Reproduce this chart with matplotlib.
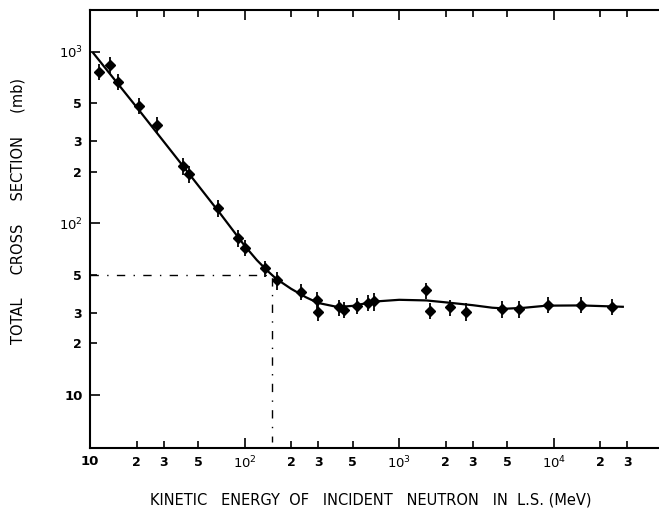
import matplotlib
matplotlib.use("Agg")
import matplotlib.pyplot as plt
from matplotlib.ticker import FixedLocator, FixedFormatter

# measured points (MeV, mb) with error bars
energy = [11.4, 13.5, 15.1, 20.7, 27, 40, 43.6, 67, 91, 101, 136, 161, 233, 292, 300,
          410, 442, 535, 631, 690, 1490, 1585, 2135, 2700, 4620, 5950, 9140, 15100, 24000]
sigma = [764, 840, 668, 483, 374, 215, 194, 122, 82, 72, 54.6, 46.4, 40, 35.5, 30.5,
         32.4, 31.4, 33, 34.5, 35, 40.6, 31, 32.3, 30.6, 31.6, 31.6, 33.6, 33.6, 32.7]
sigma_err = [80, 90, 70, 50, 40, 25, 22, 14, 9, 8, 6, 5.5, 4.5, 4, 3.5,
             3.5, 3.5, 3.5, 3.5, 4, 4.5, 3.5, 3.5, 3.5, 3.5, 3.5, 3.5, 3.5, 3.5]

# smooth curve drawn through the data
curve_e = [10.5, 20, 40, 70, 100, 120, 140, 160, 200, 250, 300, 400, 500, 700, 1000,
           1500, 2000, 3000, 4000, 5000, 6500, 9000, 15000, 28000]
curve_s = [980, 475, 215, 113, 74, 61, 53, 47.5, 41.5, 37, 34.3, 32.5, 33, 35, 35.8,
           35.5, 34.6, 33.3, 32.2, 31.8, 32.2, 33.1, 33.2, 32.6]

# guide lines at 50 mb / 150 MeV
guide_e = [10, 150, 150]
guide_s = [50, 50, 5.3]

x_major = [10, 100, 1000, 10000]
x_major_labels = ["10", r"$10^2$", r"$10^3$", r"$10^4$"]
x_minor = [20, 30, 50, 200, 300, 500, 2000, 3000, 5000, 20000, 30000]
x_minor_labels = ["2", "3", "5", "2", "3", "5", "2", "3", "5", "2", "3"]
y_major = [10, 100, 1000]
y_major_labels = ["10", r"$10^2$", r"$10^3$"]
y_minor = [20, 30, 50, 200, 300, 500]
y_minor_labels = ["2", "3", "5", "2", "3", "5"]

fig = plt.figure(figsize=(6.59, 5.18), dpi=100)
ax = fig.add_axes([0.1366, 0.135, 0.8634, 0.846])

ax.plot(curve_e, curve_s, color="black", lw=1.6)
ax.errorbar(energy, sigma, yerr=sigma_err, fmt="D", color="black", ms=5,
            elinewidth=1.3, capsize=0)
ax.plot(guide_e, guide_s, color="black", lw=1, linestyle=(0, (6, 6, 1, 6)))

ax.set_xscale("log")
ax.set_yscale("log")
ax.set_xlim(10, 4.8e4)
ax.set_ylim(4.9, 1750)

ax.xaxis.set_major_locator(FixedLocator(x_major))
ax.xaxis.set_major_formatter(FixedFormatter(x_major_labels))
ax.xaxis.set_minor_locator(FixedLocator(x_minor))
ax.xaxis.set_minor_formatter(FixedFormatter(x_minor_labels))
ax.yaxis.set_major_locator(FixedLocator(y_major))
ax.yaxis.set_major_formatter(FixedFormatter(y_major_labels))
ax.yaxis.set_minor_locator(FixedLocator(y_minor))
ax.yaxis.set_minor_formatter(FixedFormatter(y_minor_labels))

ax.tick_params(axis="both", which="major", direction="in", length=7, width=1.2,
               labelsize=9.5, pad=5)
ax.tick_params(axis="both", which="minor", direction="in", length=5, width=1.2,
               labelsize=9, pad=6)
ax.tick_params(axis="x", which="both", top=True)
for lbl in (ax.get_xticklabels(which="both") + ax.get_yticklabels(which="both")):
    lbl.set_fontweight("bold")

ax.spines["right"].set_visible(False)
for side in ["left", "bottom", "top"]:
    ax.spines[side].set_linewidth(1.5)

fig.text(0.562, 0.035, "KINETIC   ENERGY  OF   INCIDENT   NEUTRON   IN  L.S. (MeV)",
         ha="center", va="center", fontsize=10.5)
fig.text(0.027, 0.593, "TOTAL     CROSS     SECTION     (mb)", rotation=90,
         ha="center", va="center", fontsize=10.5)

fig.savefig("out.png", dpi=100)
plt.close(fig)
